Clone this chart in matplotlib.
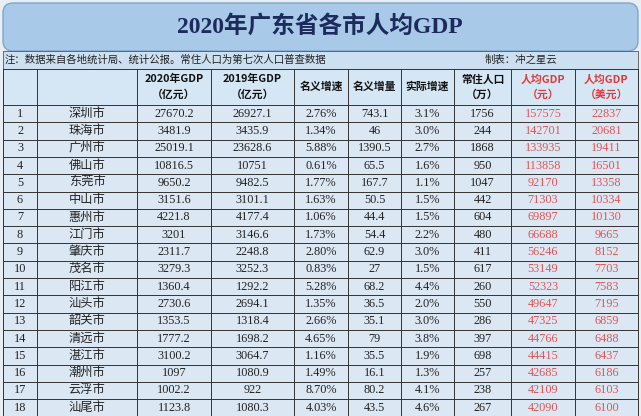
import matplotlib
matplotlib.use("Agg")
import matplotlib.pyplot as plt
from matplotlib.patches import Rectangle, FancyBboxPatch

plt.rcParams["font.family"] = ["Noto Sans CJK SC", "DejaVu Sans"]

title = "2020年广东省各市人均GDP"
note = "注：数据来自各地统计局、统计公报。常住人口为第七次人口普查数据"
author = "制表：冲之星云"
headers = ["", "", "2020年GDP\n（亿元）", "2019年GDP\n（亿元）", "名义增速", "名义增量",
           "实际增速", "常住人口\n（万）", "人均GDP\n（元）", "人均GDP\n（美元）"]
cities = ["深圳市", "珠海市", "广州市", "佛山市", "东莞市", "中山市", "惠州市", "江门市", "肇庆市",
          "茂名市", "阳江市", "汕头市", "韶关市", "清远市", "湛江市", "潮州市", "云浮市", "汕尾市"]
gdp2020 = ["27670.2", "3481.9", "25019.1", "10816.5", "9650.2", "3151.6", "4221.8", "3201", "2311.7",
           "3279.3", "1360.4", "2730.6", "1353.5", "1777.2", "3100.2", "1097", "1002.2", "1123.8"]
gdp2019 = ["26927.1", "3435.9", "23628.6", "10751", "9482.5", "3101.1", "4177.4", "3146.6", "2248.8",
           "3252.3", "1292.2", "2694.1", "1318.4", "1698.2", "3064.7", "1080.9", "922", "1080.3"]
nominal_rate = ["2.76%", "1.34%", "5.88%", "0.61%", "1.77%", "1.63%", "1.06%", "1.73%", "2.80%",
                "0.83%", "5.28%", "1.35%", "2.66%", "4.65%", "1.16%", "1.49%", "8.70%", "4.03%"]
nominal_inc = ["743.1", "46", "1390.5", "65.5", "167.7", "50.5", "44.4", "54.4", "62.9",
               "27", "68.2", "36.5", "35.1", "79", "35.5", "16.1", "80.2", "43.5"]
real_rate = ["3.1%", "3.0%", "2.7%", "1.6%", "1.1%", "1.5%", "1.5%", "2.2%", "3.0%",
             "1.5%", "4.4%", "2.0%", "3.0%", "3.8%", "1.9%", "1.3%", "4.1%", "4.6%"]
population = ["1756", "244", "1868", "950", "1047", "442", "604", "480", "411",
              "617", "260", "550", "286", "397", "698", "257", "238", "267"]
per_cny = ["157575", "142701", "133935", "113858", "92170", "71303", "69897", "66688", "56246",
           "53149", "52323", "49647", "47325", "44766", "44415", "42685", "42109", "42090"]
per_usd = ["22837", "20681", "19411", "16501", "13358", "10334", "10130", "9665", "8152",
           "7703", "7583", "7195", "6859", "6488", "6437", "6186", "6103", "6100"]

col_edges = [3, 37, 137, 211, 294, 348, 401, 454, 511, 575, 638]
row_h = 17.3
top_data = 105

fig = plt.figure(figsize=(6.41, 4.16), dpi=100)
ax = fig.add_axes([0, 0, 1, 1])
ax.set_xlim(0, 641)
ax.set_ylim(416, 0)
ax.axis("off")
fig.patch.set_facecolor("#e8eef4")

# title block
ax.add_patch(FancyBboxPatch((3, 3), 635, 48, boxstyle="round,pad=0,rounding_size=10",
                            fc="#a8c9e8", ec="#7fa6cc", lw=1))
ax.text(320, 26, title, ha="center", va="center", fontsize=17, fontweight="bold", color="#1c2a5c",
        family=["Liberation Serif", "Noto Sans CJK SC"])
ax.add_patch(Rectangle((3, 51), 635, 18, fc="#cde0f2", ec="#555555", lw=0.6))
ax.text(5, 60, note, ha="left", va="center", fontsize=7.5, color="#222222")
ax.text(485, 60, author, ha="left", va="center", fontsize=7.5, color="#222222")

# header
ax.add_patch(Rectangle((3, 69), 635, 36, fc="#d5e6f5", ec="none"))
for j, h in enumerate(headers):
    cx = (col_edges[j] + col_edges[j + 1]) / 2
    color = "#e03a3a" if j >= 8 else "#111111"
    ax.text(cx, 87, h, ha="center", va="center", fontsize=7.8, color=color,
            fontweight="bold", linespacing=1.6)

# data
columns = [None, cities, gdp2020, gdp2019, nominal_rate, nominal_inc, real_rate,
           population, per_cny, per_usd]
for i in range(len(cities)):
    y0 = top_data + i * row_h
    ax.add_patch(Rectangle((3, y0), 635, row_h, fc="#dbe8f4", ec="none"))
    cy = y0 + row_h / 2
    for j in range(10):
        cx = (col_edges[j] + col_edges[j + 1]) / 2
        txt = str(i + 1) if j == 0 else columns[j][i]
        color = "#e05555" if j >= 8 else "#222222"
        ax.text(cx, cy, txt, ha="center", va="center", fontsize=8.8, color=color,
                family=["Liberation Serif", "Noto Sans CJK SC"])
    ax.plot([3, 638], [y0, y0], color="#333333", lw=0.7)

for x in col_edges:
    ax.plot([x, x], [69, 416], color="#333333", lw=0.7)
ax.plot([3, 638], [69, 69], color="#333333", lw=0.7)

fig.savefig("out.png", dpi=100)
